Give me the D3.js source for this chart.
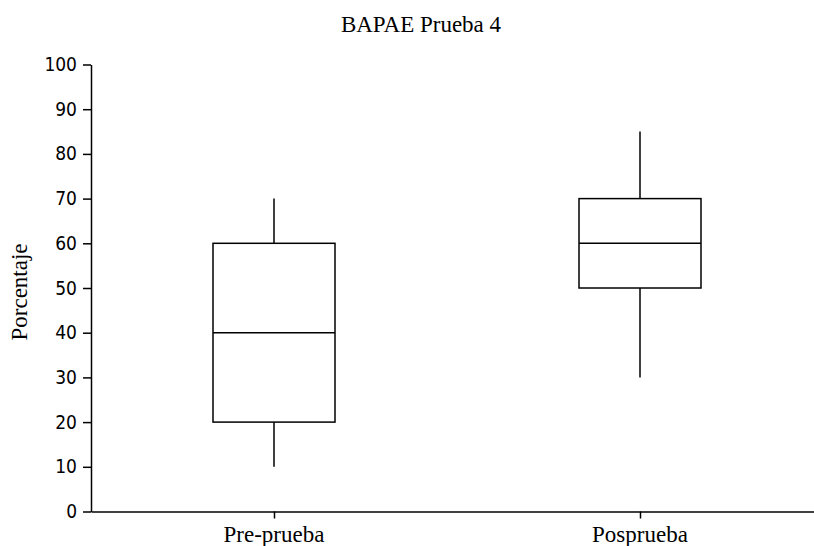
<!DOCTYPE html>
<html><head><meta charset="utf-8">
<script src="https://cdn.jsdelivr.net/npm/d3@7"></script>
<style>body{margin:0;background:#fff}</style>
</head><body>
<svg id="c" width="814" height="546"></svg>
<script>
const categories = ["Pre-prueba", "Posprueba"];
const mins = [10, 30];
const q1s = [20, 50];
const medians = [40, 60];
const q3s = [60, 70];
const maxs = [70, 85];
const yTicks = [0, 10, 20, 30, 40, 50, 60, 70, 80, 90, 100];
const title = "BAPAE Prueba 4";
const yLabel = "Porcentaje";

const svg = d3.select("#c");
const x = d3.scalePoint().domain(categories).range([91, 823]).padding(0.5);
const y = d3.scaleLinear().domain([0, 100]).range([511.5, 64.5]);
const boxW = x.step() / 3;
const serif = "'Liberation Serif','Times New Roman',serif";
const sans = "'DejaVu Sans Condensed','Liberation Sans',sans-serif";

// Y axis
const ya = svg.append("g").attr("transform", "translate(91,0)")
  .call(d3.axisLeft(y).tickValues(yTicks).tickSize(8).tickPadding(6).tickSizeOuter(0));
ya.select(".domain").attr("stroke", "#000").attr("stroke-width", 1.5);
ya.selectAll(".tick line").attr("stroke", "#000").attr("stroke-width", 1.5);
ya.selectAll(".tick text").attr("font-family", sans).attr("font-size", 19).attr("fill", "#000");

// X axis
const xa = svg.append("g").attr("transform", "translate(0,511.5)")
  .call(d3.axisBottom(x).tickSize(7).tickSizeOuter(0).tickFormat(() => ""));
xa.select(".domain").attr("stroke", "#000").attr("stroke-width", 1.5);
xa.selectAll(".tick line").attr("stroke", "#000").attr("stroke-width", 1.5);
svg.append("g").selectAll("text").data(categories).join("text")
  .attr("x", d => x(d)).attr("y", 541.5).attr("text-anchor", "middle")
  .attr("font-family", serif).attr("font-size", 23).attr("fill", "#000").text(d => d);

// Boxes
const data = categories.map((c, i) => ({c, min: mins[i], q1: q1s[i], med: medians[i], q3: q3s[i], max: maxs[i]}));
const g = svg.append("g").attr("stroke", "#000").attr("stroke-width", 1.5).attr("fill", "none");
const b = g.selectAll("g").data(data).join("g");
b.append("line").attr("x1", d => x(d.c)).attr("x2", d => x(d.c)).attr("y1", d => y(d.max)).attr("y2", d => y(d.q3));
b.append("line").attr("x1", d => x(d.c)).attr("x2", d => x(d.c)).attr("y1", d => y(d.q1)).attr("y2", d => y(d.min));
b.append("rect").attr("x", d => x(d.c) - boxW / 2).attr("width", boxW)
  .attr("y", d => y(d.q3)).attr("height", d => y(d.q1) - y(d.q3)).attr("fill", "#fff");
b.append("line").attr("x1", d => x(d.c) - boxW / 2).attr("x2", d => x(d.c) + boxW / 2)
  .attr("y1", d => y(d.med)).attr("y2", d => y(d.med));

// Title
svg.append("text").attr("x", 421).attr("y", 32).attr("text-anchor", "middle")
  .attr("font-family", serif).attr("font-size", 23).attr("fill", "#000").text(title);
// Y label
svg.append("text").attr("transform", "translate(27,292) rotate(-90)").attr("text-anchor", "middle")
  .attr("font-family", serif).attr("font-size", 23).attr("fill", "#000").text(yLabel);
</script>
</body></html>
